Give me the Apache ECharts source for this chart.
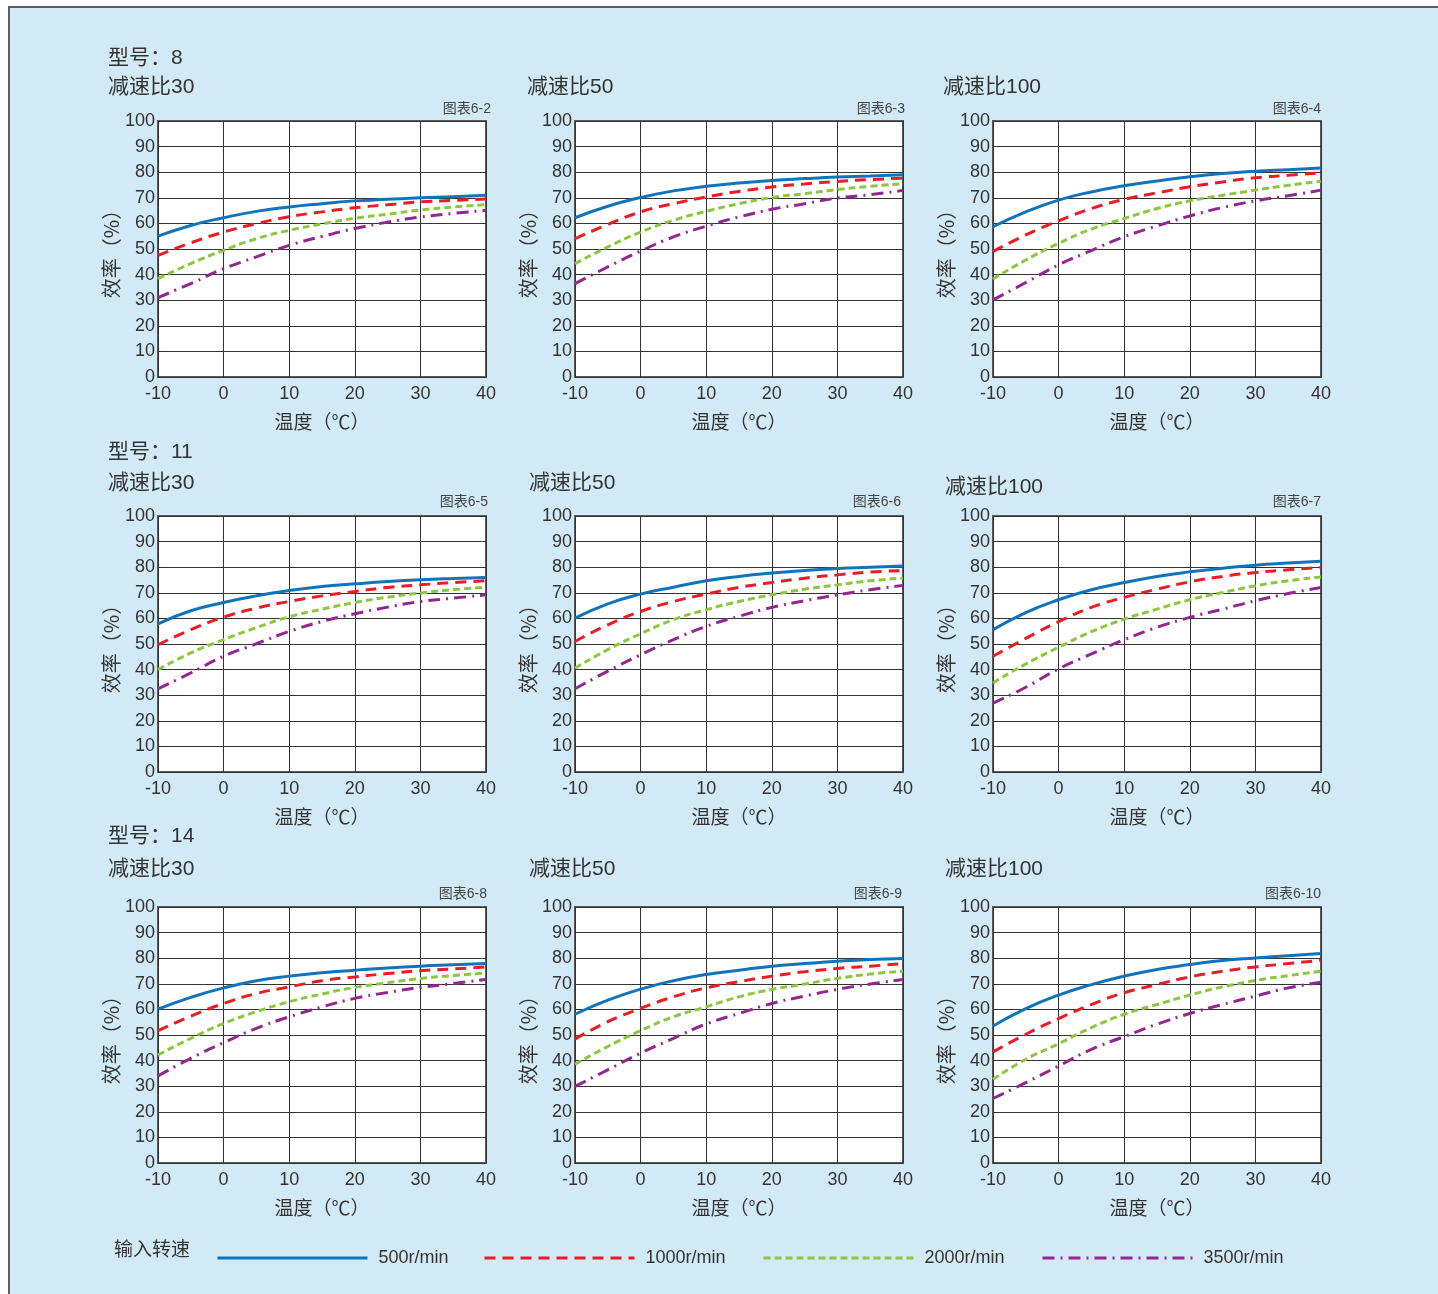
<!DOCTYPE html>
<html>
<head>
<meta charset="utf-8">
<script src="https://cdn.jsdelivr.net/npm/echarts@6/dist/echarts.min.js"></script>
<style>
  html, body { margin: 0; padding: 0; background: #ffffff; }
  #bg { position: absolute; left: 8px; top: 6px; width: 1430px; height: 1288px;
        border-top: 2px solid #5e5e5e; border-left: 2px solid #5e5e5e; background: #d2e9f6; }
  #chart { position: absolute; left: 0; top: 0; width: 1438px; height: 1294px; }
</style>
</head>
<body>
<div id="bg"></div>
<div id="chart"></div>
<script>
// ---- data ----
const temps = [-10, -5, 0, 5, 10, 15, 20, 25, 30, 35, 40];
const xTicks = [-10, 0, 10, 20, 30, 40];
const yTicks = [0, 10, 20, 30, 40, 50, 60, 70, 80, 90, 100];
const speedNames = ['500r/min', '1000r/min', '2000r/min', '3500r/min'];
const modelNames = ['型号：8', '型号：11', '型号：14'];
const ratioNames = ['减速比30', '减速比50', '减速比100'];
const figNames = ['图表6-2', '图表6-3', '图表6-4', '图表6-5', '图表6-6', '图表6-7', '图表6-8', '图表6-9', '图表6-10'];

// 图表6-2 (型号8, 减速比30)
const e62_500  = [55.0, 59.2, 62.2, 64.7, 66.4, 67.7, 68.8, 69.4, 70.0, 70.4, 71.0];
const e62_1000 = [47.5, 52.4, 56.6, 59.9, 62.6, 64.5, 66.1, 67.3, 68.4, 69.0, 69.5];
const e62_2000 = [38.4, 44.3, 49.5, 54.0, 57.3, 59.8, 62.0, 63.6, 65.2, 66.4, 67.3];
const e62_3500 = [31.0, 36.5, 42.3, 46.9, 51.4, 54.9, 58.0, 60.5, 62.5, 63.9, 65.1];
// 图表6-3 (型号8, 减速比50)
const e63_500  = [62.2, 66.7, 70.1, 72.7, 74.5, 75.8, 76.8, 77.5, 78.1, 78.5, 79.0];
const e63_1000 = [54.0, 59.6, 64.5, 67.7, 70.3, 72.5, 74.2, 75.4, 76.4, 77.1, 77.7];
const e63_2000 = [44.3, 50.8, 56.6, 61.2, 64.7, 67.7, 70.1, 71.6, 73.2, 74.5, 75.5];
const e63_3500 = [36.5, 43.0, 49.2, 54.7, 58.9, 62.5, 65.5, 67.7, 69.9, 71.2, 72.9];
// 图表6-4 (型号8, 减速比100)
const e64_500  = [58.7, 64.5, 69.1, 72.3, 74.7, 76.6, 78.2, 79.5, 80.4, 81.0, 81.6];
const e64_1000 = [49.0, 55.5, 61.0, 65.8, 69.4, 71.9, 74.3, 76.2, 77.8, 78.8, 79.7];
const e64_2000 = [38.3, 45.7, 52.2, 57.8, 61.9, 65.8, 68.8, 71.0, 73.0, 74.9, 76.5];
const e64_3500 = [30.1, 36.9, 43.8, 49.4, 54.8, 59.0, 62.9, 66.2, 68.8, 70.8, 73.0];
// 图表6-5 (型号11, 减速比30)
const e65_500  = [57.9, 63.0, 66.2, 68.8, 70.9, 72.5, 73.5, 74.4, 75.1, 75.6, 76.0];
const e65_1000 = [49.7, 55.6, 60.5, 64.0, 66.6, 68.8, 70.5, 72.1, 73.1, 74.0, 74.7];
const e65_2000 = [40.0, 46.5, 51.7, 56.4, 60.6, 63.6, 66.2, 68.3, 69.9, 71.2, 72.2];
const e65_3500 = [32.5, 38.7, 45.2, 50.1, 54.9, 58.8, 61.8, 64.4, 66.6, 67.9, 69.2];
// 图表6-6 (型号11, 减速比50)
const e66_500  = [60.1, 65.7, 69.5, 72.2, 74.7, 76.4, 77.7, 78.7, 79.5, 80.0, 80.5];
const e66_1000 = [51.0, 57.5, 62.7, 66.6, 69.5, 72.1, 74.0, 75.7, 77.0, 78.1, 78.7];
const e66_2000 = [40.6, 47.8, 54.0, 59.5, 63.4, 66.6, 69.2, 71.4, 73.1, 74.7, 75.7];
const e66_3500 = [32.5, 39.4, 45.8, 51.7, 56.9, 60.8, 64.3, 66.9, 69.2, 71.2, 72.9];
// 图表6-7 (型号11, 减速比100)
const e67_500  = [55.6, 62.3, 67.3, 71.2, 74.0, 76.4, 78.2, 79.6, 80.8, 81.6, 82.3];
const e67_1000 = [45.2, 52.2, 58.7, 64.3, 68.2, 71.4, 74.3, 76.4, 77.9, 79.0, 79.9];
const e67_2000 = [34.8, 42.2, 48.7, 54.8, 59.7, 63.6, 67.3, 70.1, 72.7, 74.7, 76.2];
const e67_3500 = [26.9, 33.1, 40.3, 46.1, 51.7, 56.5, 60.4, 63.6, 66.9, 69.7, 72.1];
// 图表6-8 (型号14, 减速比30)
const e68_500  = [60.1, 64.7, 68.4, 71.2, 73.0, 74.3, 75.3, 76.2, 76.9, 77.4, 77.9];
const e68_1000 = [51.7, 57.4, 62.3, 66.2, 68.8, 71.2, 72.7, 74.0, 75.1, 75.8, 76.6];
const e68_2000 = [42.2, 48.7, 54.5, 59.1, 63.0, 66.0, 68.6, 70.4, 72.1, 73.2, 74.3];
const e68_3500 = [34.0, 40.9, 47.0, 52.6, 57.1, 61.0, 64.3, 66.6, 68.6, 70.1, 71.7];
// 图表6-9 (型号14, 减速比50)
const e69_500  = [58.1, 63.6, 67.9, 71.2, 73.6, 75.3, 76.9, 77.9, 78.8, 79.5, 79.9];
const e69_1000 = [48.4, 55.2, 60.4, 64.9, 68.4, 70.8, 73.0, 74.7, 76.0, 76.9, 77.9];
const e69_2000 = [38.6, 45.5, 51.7, 57.1, 61.0, 64.9, 67.8, 69.9, 72.1, 73.8, 74.9];
const e69_3500 = [29.9, 36.4, 42.9, 48.7, 54.3, 58.4, 62.3, 65.2, 67.8, 69.9, 71.7];
// 图表6-10 (型号14, 减速比100)
const e610_500  = [53.5, 60.3, 65.6, 69.7, 73.0, 75.6, 77.5, 79.1, 80.1, 81.0, 81.8];
const e610_1000 = [43.4, 50.3, 56.4, 61.9, 66.5, 69.7, 72.7, 74.9, 76.6, 77.9, 79.2];
const e610_2000 = [32.7, 40.5, 46.6, 52.9, 58.1, 61.9, 65.6, 68.8, 71.3, 73.2, 74.9];
const e610_3500 = [25.2, 31.4, 37.9, 44.4, 49.4, 54.2, 58.4, 61.9, 65.2, 68.4, 70.6];

const panelData = [
  [e62_500, e62_1000, e62_2000, e62_3500],
  [e63_500, e63_1000, e63_2000, e63_3500],
  [e64_500, e64_1000, e64_2000, e64_3500],
  [e65_500, e65_1000, e65_2000, e65_3500],
  [e66_500, e66_1000, e66_2000, e66_3500],
  [e67_500, e67_1000, e67_2000, e67_3500],
  [e68_500, e68_1000, e68_2000, e68_3500],
  [e69_500, e69_1000, e69_2000, e69_3500],
  [e610_500, e610_1000, e610_2000, e610_3500]
];

// ---- layout & style ----
const gridLeft = [158, 575, 993];
const gridTop = [121, 516, 907];
const gridW = 328, gridH = 256;
const modelTitlePos = [[108, 48], [108, 442], [108, 826]];
const ratioTitlePos = [[108, 77], [527, 77], [943, 77], [108, 473], [529, 473], [945, 477], [108, 859], [529, 859], [945, 859]];
const figTitlePos = [[947, 102], [533, 102], [117, 102], [950, 495], [537, 495], [117, 495], [951, 887], [536, 887], [117, 887]];
const legendLeft = [216, 483, 762, 1041];
const seriesColors = ['#1174bb', '#ec1c24', '#8dc63f', '#93278f'];
const seriesDash = ['solid', [11, 7], [7, 4], [12, 6, 2, 6]];
const textColor = '#333333';
const FONT = '"Liberation Sans", Arial, "Noto Sans CJK SC", sans-serif';
const CJK = '"Noto Sans CJK SC", "Liberation Sans", sans-serif';

const grids = [], xAxes = [], yAxes = [], series = [], titles = [];

for (let r = 0; r < 3; r++) {
  titles.push({ text: modelNames[r], left: modelTitlePos[r][0], top: modelTitlePos[r][1], padding: 0,
    textStyle: { fontSize: 21, fontWeight: 'normal', color: textColor, fontFamily: FONT } });
}

for (let p = 0; p < 9; p++) {
  const r = Math.floor(p / 3), c = p % 3;
  grids.push({ left: gridLeft[c], top: gridTop[r], width: gridW, height: gridH,
    show: true, backgroundColor: '#ffffff', borderColor: '#5a5a5a', borderWidth: 2 });
  xAxes.push({ type: 'value', gridIndex: p, min: xTicks[0], max: xTicks[xTicks.length - 1],
    interval: xTicks[1] - xTicks[0],
    name: '温度（℃）', nameLocation: 'middle', nameGap: 35,
    nameTextStyle: { fontSize: 19, color: textColor, fontFamily: CJK },
    axisLine: { show: false }, axisTick: { show: false },
    axisLabel: { fontSize: 18, color: textColor, margin: 8, fontFamily: FONT },
    splitLine: { show: true, lineStyle: { color: '#333', width: 1 } } });
  yAxes.push({ type: 'value', gridIndex: p, min: yTicks[0], max: yTicks[yTicks.length - 1],
    interval: yTicks[1] - yTicks[0],
    name: '效率（%）', nameLocation: 'middle', nameGap: 30, nameRotate: 90,
    nameTextStyle: { fontSize: 20, color: textColor, fontFamily: CJK },
    axisLine: { show: false }, axisTick: { show: false },
    axisLabel: { fontSize: 18, color: textColor, margin: 3, fontFamily: FONT },
    splitLine: { show: true, lineStyle: { color: '#333', width: 1 } } });
  titles.push({ text: ratioNames[c], left: ratioTitlePos[p][0], top: ratioTitlePos[p][1], padding: 0,
    textStyle: { fontSize: 21, fontWeight: 'normal', color: textColor, fontFamily: FONT } });
  titles.push({ text: figNames[p], right: figTitlePos[p][0], top: figTitlePos[p][1], padding: 0,
    textStyle: { fontSize: 14, fontWeight: 'normal', color: '#444', fontFamily: FONT } });
  for (let s = 0; s < 4; s++) {
    series.push({ type: 'line', name: speedNames[s], xAxisIndex: p, yAxisIndex: p,
      data: temps.map((t, i) => [t, panelData[p][s][i]]),
      smooth: true, symbol: 'none', showSymbol: false, silent: true,
      lineStyle: { color: seriesColors[s], width: 3, type: seriesDash[s] },
      itemStyle: { color: seriesColors[s] }, z: 3 + (3 - s) });
  }
}

titles.push({ text: '输入转速', left: 114, top: 1239, padding: 0,
  textStyle: { fontSize: 19, fontWeight: 'normal', color: textColor, fontFamily: CJK } });

const legends = speedNames.map((n, i) => ({
  data: [n], left: legendLeft[i], top: 1249, padding: 0, selectedMode: false,
  itemWidth: 150, itemHeight: 16, itemStyle: { opacity: 0, borderWidth: 0 },
  lineStyle: { width: 3 },
  textStyle: { fontSize: 18, color: textColor, fontFamily: FONT, padding: [0, 0, 0, 6] }
}));

const chart = echarts.init(document.getElementById('chart'), null, { renderer: 'canvas' });
chart.setOption({
  backgroundColor: 'transparent',
  animation: false,
  textStyle: { fontFamily: FONT },
  title: titles,
  legend: legends,
  grid: grids,
  xAxis: xAxes,
  yAxis: yAxes,
  series: series
});
</script>
</body>
</html>
